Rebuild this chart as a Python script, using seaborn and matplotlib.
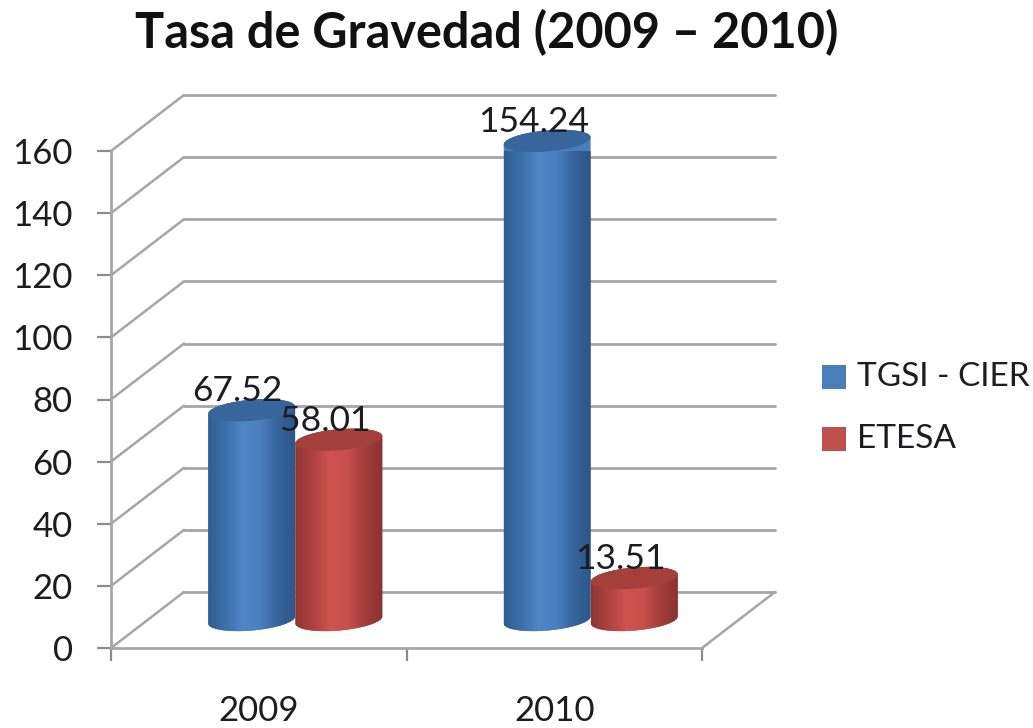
import numpy as np
import pandas as pd
import seaborn as sns
import matplotlib
matplotlib.use("Agg")
import matplotlib.pyplot as plt
from matplotlib.patches import PathPatch, Rectangle
from matplotlib.path import Path
from matplotlib.transforms import Affine2D, IdentityTransform
from matplotlib.colors import LinearSegmentedColormap

years = ["2009", "2010"]
series = ["TGSI - CIER", "ETESA"]
tgsi_values = [67.52, 154.24]
etesa_values = [58.01, 13.51]
label_text = {67.52: "67.52", 154.24: "154.24", 58.01: "58.01", 13.51: "13.51"}
y_ticks = [0, 20, 40, 60, 80, 100, 120, 140, 160]
title = "Tasa de Gravedad (2009 – 2010)"

BLUE = "#4a7ebb"
RED = "#c0504d"
W, H = 1033, 728
DX, DY = 73, 56          # depth of the chart box, pixels (up is positive)
GRID = "#a6a6a6"
TXT = "#1c1c22"
FONT = ["Lato", "DejaVu Sans"]

sns.set_theme(style="white")
plt.rcParams["font.family"] = FONT

df = pd.DataFrame({
    "year": years * 2,
    "serie": [series[0]] * 2 + [series[1]] * 2,
    "valor": tgsi_values + etesa_values,
})

fig = plt.figure(figsize=(W / 100, H / 100), dpi=100, facecolor="white")
ax = fig.add_axes([111 / W, 1 - 648 / H, (702 - 111) / W, (648 - 151) / H])
ax.patch.set_alpha(0)

sns.barplot(data=df, x="year", y="valor", hue="serie", hue_order=series,
            palette=[BLUE, RED], width=0.59, gap=0, dodge=True, ax=ax, legend=False)
ax.set_xlim(-0.5, 1.5)
ax.set_ylim(0, 160)
ax.set_xlabel("")
ax.set_ylabel("")
sns.despine(ax=ax, top=True, right=True)
for s in ("left", "bottom"):
    ax.spines[s].set_color(GRID)
    ax.spines[s].set_linewidth(2)

ax.set_yticks(y_ticks)
ax.tick_params(axis="y", which="major", length=10, width=1.6, color="#8c8c8c", left=True,
               pad=17.5, labelsize=25, labelcolor=TXT)
ax.set_xticks([0, 1])
ax.set_xticks([-0.5, 0.5, 1.5], minor=True)
ax.tick_params(axis="x", which="major", length=0, pad=34, labelsize=25, labelcolor=TXT)
ax.tick_params(axis="x", which="minor", length=9.5, width=1.6, color="#8c8c8c", bottom=True)

# chart box: back wall and floor sit behind the front axes plane
back = ax.transData + Affine2D().translate(DX, DY)
half = ax.transData + Affine2D().translate(DX / 2, DY / 2)
for v in y_ticks:
    ax.plot([-0.5, 1.5], [v, v], transform=back, color=GRID, lw=2, clip_on=False, zorder=0.5)
    x0, y0 = ax.transData.transform((-0.5, v))
    ax.plot([x0, x0 + DX], [y0, y0 + DY], transform=IdentityTransform(), color=GRID, lw=1.8,
            clip_on=False, zorder=0.5)
x1, y1 = ax.transData.transform((1.5, 0))
ax.plot([x1, x1 + DX], [y1, y1 + DY], transform=IdentityTransform(), color=GRID, lw=1.8,
        clip_on=False, zorder=0.5)

# cylinders: seaborn's bars give position, width and height
side_cmap = {
    BLUE: LinearSegmentedColormap.from_list("b", ["#2f5d92", "#3d70aa", "#4f86c6", "#4a80be", "#36639b", "#2c5688"]),
    RED: LinearSegmentedColormap.from_list("r", ["#8f3533", "#ad4240", "#cf5350", "#c64f4c", "#a23c3a", "#8a3230"]),
}
top_col = {BLUE: "#38659c", RED: "#a53f3c"}
grad = np.linspace(0, 1, 256).reshape(1, -1)
TILT = 5.0
B = 10.5
t = np.linspace(0, np.pi, 60)


def ell(cx, cy, a, b, th):
    c, s = np.cos(np.radians(TILT)), np.sin(np.radians(TILT))
    ex, ey = a * np.cos(th), b * np.sin(th)
    return np.c_[cx + ex * c - ey * s, cy + ex * s + ey * c]


bars = [p for p in ax.patches if p.get_height() > 0]
labels = []
for i, p in enumerate(bars):
    col = BLUE if i < 2 else RED
    x, w, h = p.get_x(), p.get_width(), p.get_height()
    (xa, ya), (xb, yb) = half.transform([(x, 0), (x + w, h)])
    cx, a = (xa + xb) / 2, (xb - xa) / 2
    z = 3 + i
    p.set_transform(half)
    p.set_alpha(0)
    lower = ell(cx, ya, a, B, np.pi + t)         # bottom rim, left to right
    upper = ell(cx, yb, a, B, t)                 # top rim, right to left
    verts = np.r_[lower, upper, lower[:1]]
    codes = [Path.MOVETO] + [Path.LINETO] * (len(verts) - 2) + [Path.CLOSEPOLY]
    body = PathPatch(Path(verts, codes), transform=IdentityTransform(), fc=col, ec="none",
                     zorder=z, clip_on=False)
    ax.add_patch(body)
    im = ax.imshow(grad, cmap=side_cmap[col], aspect="auto", extent=(x, x + w, -5, h + 5),
                   transform=half, zorder=z + 0.1, clip_on=True)
    im.set_clip_path(body)
    top = ell(cx, yb, a, B, np.linspace(0, 2 * np.pi, 120))
    ax.add_patch(plt.Polygon(top, closed=True, transform=IdentityTransform(), fc=top_col[col],
                             ec="none", zorder=z + 0.2, clip_on=False))
    labels.append((cx - 14, yb + 3, h))

ax.set_xlim(-0.5, 1.5)
ax.set_ylim(0, 160)

for lx, ly, h in labels:
    ax.text(lx, ly, label_text[h], transform=IdentityTransform(), ha="center", va="bottom",
            fontsize=25.5, color=TXT, zorder=10, clip_on=False)

fig.text(487 / W, 1 - 33 / H, title, ha="center", va="center", fontsize=35, fontweight="bold",
         color="#111111")

# legend
for name, col, yc in [(series[0], BLUE, 377), (series[1], RED, 439)]:
    fig.patches.append(Rectangle((822 / W, 1 - (yc + 12) / H), 24 / W, 24 / H, transform=fig.transFigure,
                                 fc=col, ec="none", figure=fig))
    fig.text(857 / W, 1 - yc / H, name, ha="left", va="center", fontsize=24, color=TXT)

fig.savefig("out.png", dpi=100, facecolor="white")
